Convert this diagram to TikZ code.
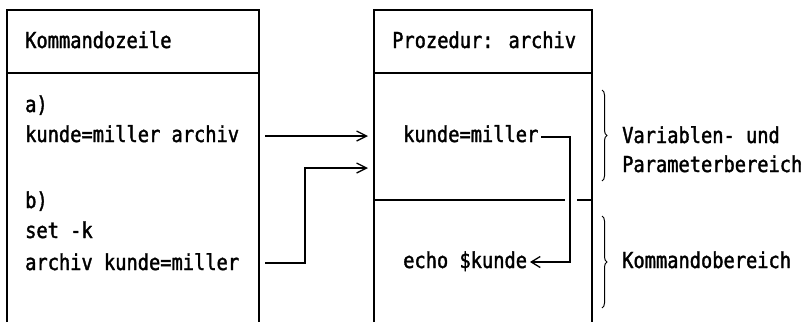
\documentclass[tikz,border=0pt]{standalone}
\usepackage{fontspec}
\usetikzlibrary{arrows.meta,decorations.pathreplacing}
\newfontfamily\dmono[FakeStretch=0.85,FakeBold=1.6]{DejaVu Sans Mono}
\begin{document}
\begin{tikzpicture}[x=1pt,y=-1pt,
  txt/.style={anchor=base west,inner sep=0pt,font=\dmono\fontsize{22}{26}\selectfont},
  ln/.style={line width=1.3pt},
  conn/.style={line width=1.3pt,-{Straight Barb[length=10pt,width=10pt,line width=1.3pt]}},
  brc/.style={line width=1pt,decorate,decoration={brace,amplitude=5pt}}]
\useasboundingbox (0,0) rectangle (809,322);
% boxes (open at bottom)
\draw[ln] (7,322) -- (7,10) -- (259,10) -- (259,322);
\draw[ln] (7,73) -- (259,73);
\draw[ln] (374,322) -- (374,10) -- (592,10) -- (592,322);
\draw[ln] (374,73) -- (592,73);
\draw[ln] (374,200) -- (565,200);
\draw[ln] (577,200) -- (592,200);
% texts
\node[txt] (t1) at (25,48) {Kommandozeile};
\node[txt] (t2) at (392,48) {Prozedur: archiv};
\node[txt] (la0) at (25,112) {a)};
\node[txt] (la) at (25,142) {kunde=miller archiv};
\node[txt] (lb0) at (25,208) {b)};
\node[txt] (lbs) at (25,238) {set -k};
\node[txt] (lb) at (25,270) {archiv kunde=miller};
\node[txt] (rk) at (403,142) {kunde=miller};
\node[txt] (re) at (403,268) {echo \$kunde};
\node[txt] (v1) at (622,143) {Variablen- und};
\node[txt] (v2) at (622,172) {Parameterbereich};
\node[txt] (kb) at (622,268) {Kommandobereich};
% connector end points
\coordinate (as) at (265,136);
\coordinate (ae) at (368,136);
\coordinate (bs) at (265,263);
\coordinate (be) at (368,168);
\coordinate (rs) at (541,137);
\coordinate (rt) at (530,262);
\draw[conn] (as) -- (ae);
\draw[conn] (bs) -- (305,263) |- (be);
\draw[line width=1.3pt,-{Straight Barb[length=9pt,width=11pt,line width=1.3pt]}] (rs) -- (570,137) |- (rt);
% braces
\draw[brc] (602,90) -- (602,181);
\draw[brc] (602,216) -- (602,308);
\end{tikzpicture}
\end{document}
